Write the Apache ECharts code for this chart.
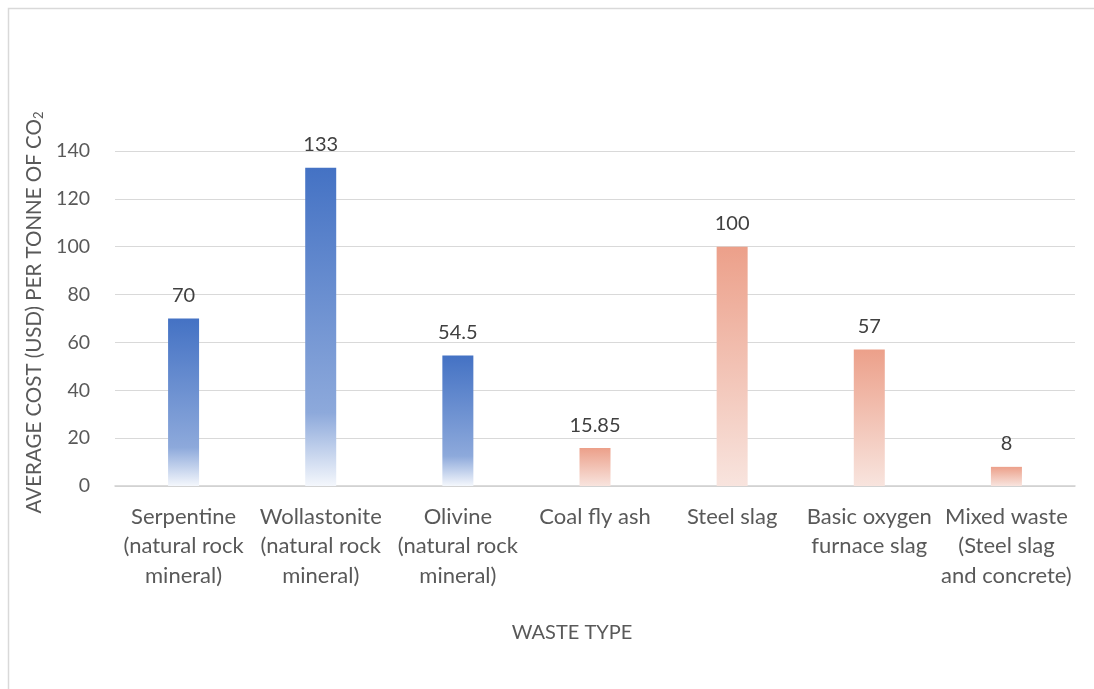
<!DOCTYPE html>
<html>
<head>
<meta charset="utf-8">
<title>Average cost per tonne of CO2 by waste type</title>
<script src="https://cdn.jsdelivr.net/npm/echarts@6/dist/echarts.min.js"></script>
<style>
  html, body { margin: 0; padding: 0; background: #ffffff; }
  #chart { width: 1094px; height: 689px; }
</style>
</head>
<body>
<div id="chart"></div>
<script>
// Waste / feedstock types on the category axis
const categories = [
  'Serpentine\n(natural rock\nmineral)',
  'Wollastonite\n(natural rock\nmineral)',
  'Olivine\n(natural rock\nmineral)',
  'Coal fly ash',
  'Steel slag',
  'Basic oxygen\nfurnace slag',
  'Mixed waste\n(Steel slag\nand concrete)'
];

// Average cost (USD) per tonne of CO2
const costs = [70, 133, 54.5, 15.85, 100, 57, 8];

// Source kind of each feedstock
const sourceKinds = ['rock', 'rock', 'rock', 'industrial', 'industrial', 'industrial', 'industrial'];

// Value-axis ticks
const yTicks = [0, 20, 40, 60, 80, 100, 120, 140];

const FONT = 'Lato, "Open Sans", "Noto Sans", sans-serif';

// Vertical fades: natural minerals in blue, industrial wastes in salmon
const rockFill = new echarts.graphic.LinearGradient(0, 0, 0, 1, [
  { offset: 0, color: '#4472C4' },
  { offset: 0.77, color: '#8DA9DB' },
  { offset: 1, color: '#F4F7FC' }
]);
const industrialFill = new echarts.graphic.LinearGradient(0, 0, 0, 1, [
  { offset: 0, color: '#ECA08A' },
  { offset: 1, color: '#F8E4DE' }
]);

const barData = costs.map((v, i) => ({
  value: v,
  itemStyle: { color: sourceKinds[i] === 'rock' ? rockFill : industrialFill }
}));

const chart = echarts.init(document.getElementById('chart'), null, { renderer: 'canvas' });

chart.setOption({
  animation: false,
  backgroundColor: '#ffffff',
  textStyle: { fontFamily: FONT },
  graphic: [{
    type: 'rect',
    left: 6,
    top: 6,
    shape: { x: 0, y: 0, width: 1200, height: 800 },
    style: { fill: 'none', stroke: '#D9D9D9', lineWidth: 1.5 },
    silent: true
  }],
  grid: {
    left: 115,
    right: 19,
    top: 151,
    bottom: 203,
    containLabel: false,
    outerBoundsMode: 'none'
  },
  xAxis: {
    type: 'category',
    data: categories,
    name: 'WASTE TYPE',
    nameLocation: 'middle',
    nameGap: 137,
    nameTextStyle: {
      fontFamily: FONT,
      fontSize: 20,
      color: '#595959',
      padding: [0, 46, 0, 0]
    },
    axisLine: { show: true, lineStyle: { color: '#D0D0D0', width: 1.5 } },
    axisTick: { show: false },
    axisLabel: {
      interval: 0,
      margin: 16,
      fontFamily: FONT,
      fontSize: 22,
      lineHeight: 29.5,
      color: '#595959'
    }
  },
  yAxis: {
    type: 'value',
    min: yTicks[0],
    max: yTicks[yTicks.length - 1],
    interval: yTicks[1] - yTicks[0],
    name: 'AVERAGE COST (USD) PER TONNE OF CO{sub|2}',
    nameLocation: 'middle',
    nameGap: 39,
    nameTextStyle: {
      fontFamily: FONT,
      fontSize: 20.5,
      color: '#595959',
      padding: [0, 0, 0, 12],
      rich: {
        sub: { fontFamily: FONT, fontSize: 13, color: '#595959', verticalAlign: 'bottom', padding: [8, 0, 0, 0] }
      }
    },
    axisLine: { show: false },
    axisTick: { show: false },
    axisLabel: {
      margin: 25,
      fontFamily: FONT,
      fontSize: 19.5,
      color: '#595959'
    },
    splitLine: { show: true, lineStyle: { color: '#D9D9D9', width: 1.2 } }
  },
  series: [{
    type: 'bar',
    data: barData,
    barWidth: 31,
    label: {
      show: true,
      position: 'top',
      distance: 13,
      fontFamily: FONT,
      fontSize: 20,
      color: '#404040'
    }
  }]
});
</script>
</body>
</html>
